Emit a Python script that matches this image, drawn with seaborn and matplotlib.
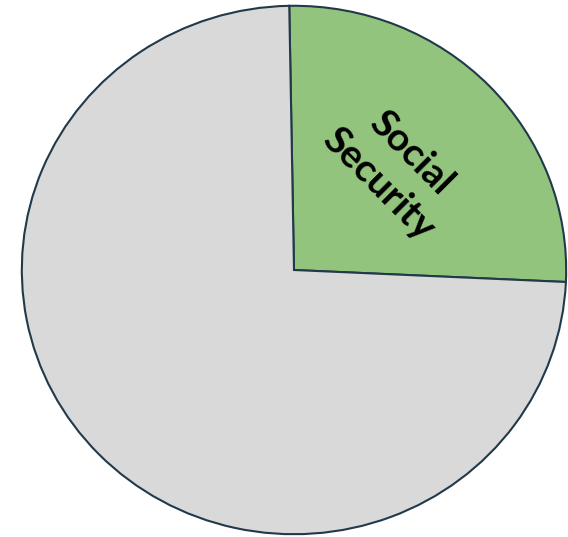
import matplotlib
matplotlib.use("Agg")
import matplotlib.pyplot as plt
import seaborn as sns

sns.set_style("white")
plt.rcParams['font.family'] = ['Lato', 'DejaVu Sans']

categories = ["Social Security", "Other"]
values = [26.0, 74.0]
labels = ["Social\nSecurity", ""]
colors = ["#93C47D", "#D9D9D9"]

fig = plt.figure(figsize=(5.68, 5.37), dpi=100)
ax = fig.add_axes([21/568, 2/537, 546/568, 530/537])
wedges, _ = ax.pie(values, colors=colors, startangle=91, counterclock=False,
                   wedgeprops=dict(edgecolor="#22394A", linewidth=1.5))
ax.set_aspect('auto')
ax.set_xlim(-1.003, 1.003)
ax.set_ylim(-1.003, 1.003)
ax.axis('off')
ax.text(0.37, 0.385, labels[0], rotation=-45, ha='center', va='center',
        fontsize=28, fontweight='bold', color='black', linespacing=1.35,
        rotation_mode='anchor')
fig.savefig("out.png", dpi=100)
